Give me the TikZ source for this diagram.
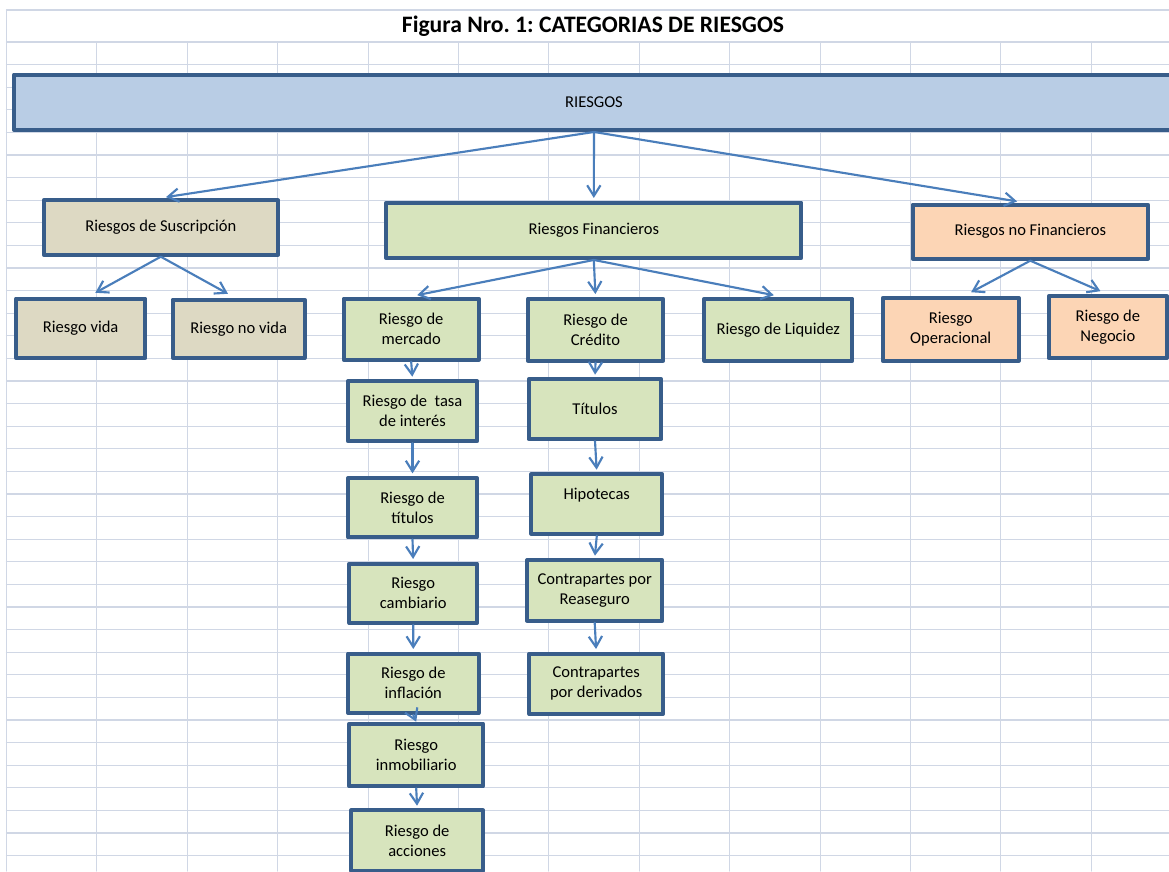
\documentclass[tikz,border=0pt]{standalone}
\usepackage{fontspec}
\setmainfont{Carlito}
\usetikzlibrary{arrows.meta}
\frenchspacing

\definecolor{sheetline}{HTML}{D0D7E5}
\definecolor{boxedge}{HTML}{385D8A}
\definecolor{arrowblue}{HTML}{4A7EBB}
\definecolor{boxblue}{HTML}{B9CDE5}
\definecolor{boxtan}{HTML}{DDD9C3}
\definecolor{boxgreen}{HTML}{D7E4BD}
\definecolor{boxpeach}{HTML}{FCD5B5}

\begin{document}
\begin{tikzpicture}[
  x=0.75pt, y=-0.75pt,
  line cap=round, line join=round,
  every node/.style={font=\fontsize{12.4}{15}\selectfont, inner sep=0pt},
  sheet/.style={draw=sheetline, line width=0.85pt},
  box/.style={draw=boxedge, line width=3pt, align=center},
  link/.style={draw=arrowblue, line width=1.6pt, -{Straight Barb[length=8pt,width=10pt]}, shorten >=6pt},
  linkdown/.style={link, shorten >=2pt},
]
\path[use as bounding box, fill=white] (0,0) rectangle (1169,871);
% spreadsheet grid
\draw[sheet] (6.5,10) -- (1169,10);
\draw[sheet] (6.5,10) -- (6.5,42);
\foreach \k in {0,...,36}
  \draw[sheet] (6.5,{42+22.6*\k}) -- (1169,{42+22.6*\k});
\foreach \k in {0,...,12}
  \draw[sheet] ({6.5+90.4*\k},42) -- ({6.5+90.4*\k},871);
\node[font=\fontsize{17.7}{20}\selectfont\bfseries] (titulo) at (593,26) {Figura Nro. 1: CATEGORIAS DE RIESGOS};

% top level
\node[box, fill=boxblue, minimum width=870pt, minimum height=41.5pt] (riesgos) at (594,102.3) {RIESGOS};
\node[box, fill=boxtan, minimum width=175.7pt, minimum height=40.8pt] (suscripcion) at (160.8,227.5) {Riesgos de Suscripción};
\node[box, fill=boxgreen, minimum width=311.3pt, minimum height=41.5pt] (financieros) at (593.8,230.3) {Riesgos Financieros};
\node[box, fill=boxpeach, minimum width=176.5pt, minimum height=40.5pt] (nofinancieros) at (1030.3,231.7) {Riesgos no Financieros};

% second level
\node[box, fill=boxtan, minimum width=97pt, minimum height=44.5pt] (vida) at (80.7,328.3) {Riesgo vida};
\node[box, fill=boxtan, minimum width=99pt, minimum height=43.7pt] (novida) at (238.7,328.8) {Riesgo no vida};
\node[box, fill=boxgreen, minimum width=101.3pt, minimum height=45.8pt] (mercado) at (411.2,329.2) {Riesgo de\\mercado};
\node[box, fill=boxgreen, minimum width=101.3pt, minimum height=46.5pt] (credito) at (595.5,329.7) {Riesgo de\\Crédito};
\node[box, fill=boxgreen, minimum width=111pt, minimum height=46.5pt] (liquidez) at (778.3,329.7) {Riesgo de Liquidez};
\node[box, fill=boxpeach, minimum width=102pt, minimum height=47pt] (operacional) at (950.7,329.3) {Riesgo\\Operacional};
\node[box, fill=boxpeach, minimum width=88.7pt, minimum height=46.3pt] (negocio) at (1107.8,327.2) {Riesgo de\\Negocio};

% mercado
\node[box, fill=boxgreen, minimum width=96.8pt, minimum height=45pt] (tasa) at (412.5,411.3) {Riesgo de~ tasa\\de interés};
\node[box, fill=boxgreen, minimum width=96.8pt, minimum height=44.5pt] (titulosm) at (412.5,507.7) {Riesgo de\\títulos};
\node[box, fill=boxgreen, minimum width=95.8pt, minimum height=44.5pt] (cambiario) at (413.2,593.3) {Riesgo\\cambiario};
\node[box, fill=boxgreen, minimum width=98pt, minimum height=44.5pt] (inflacion) at (413.3,683.3) {Riesgo de\\inflación};
\node[box, fill=boxgreen, minimum width=100.3pt, minimum height=47pt] (inmobiliario) at (416.2,755) {Riesgo\\inmobiliario};
\node[box, fill=boxgreen, minimum width=98.8pt, minimum height=45.5pt] (acciones) at (417.2,840.7) {Riesgo de\\acciones};

% credito
\node[box, fill=boxgreen, minimum width=99.5pt, minimum height=44.8pt] (tituloscr) at (595,409.2) {Títulos};
\node[box, fill=boxgreen, minimum width=98.3pt, minimum height=44.5pt, text depth=16pt] (hipotecas) at (596.8,504) {Hipotecas};
\node[box, fill=boxgreen, minimum width=101.5pt, minimum height=45.3pt] (reaseguro) at (594.7,590.5) {Contrapartes por\\Reaseguro};
\node[box, fill=boxgreen, minimum width=100.3pt, minimum height=45.2pt] (derivados) at (596.2,683.8) {Contrapartes\\por derivados};

% arrows
\draw[link] (riesgos.south) -- ([xshift=-2pt]suscripcion.north);
\draw[linkdown] (riesgos.south) -- (financieros.north);
\draw[link] (riesgos.south) -- ([xshift=-4pt]nofinancieros.north);
\draw[link] (suscripcion.south) -- ([xshift=5.7pt]vida.north);
\draw[link] (suscripcion.south) -- ([xshift=-2.8pt]novida.north);
\draw[link] (financieros.south) -- ([xshift=-1.4pt]mercado.north);
\draw[linkdown] (financieros.south) -- (credito.north);
\draw[link] (financieros.south) -- ([xshift=2.5pt]liquidez.north);
\draw[link] (nofinancieros.south) -- ([xshift=10pt]operacional.north);
\draw[link] (nofinancieros.south) -- (negocio.north);
\draw[linkdown] (mercado.south) -- (tasa.north);
\draw[linkdown] (tasa.south) -- (titulosm.north);
\draw[linkdown] (titulosm.south) -- (cambiario.north);
\draw[linkdown] (cambiario.south) -- (inflacion.north);
\draw[linkdown, shorten >=0pt] (inflacion.south) -- (inmobiliario.north);
\draw[linkdown] (inmobiliario.south) -- (acciones.north);
\draw[linkdown] (credito.south) -- (tituloscr.north);
\draw[linkdown] (tituloscr.south) -- (hipotecas.north);
\draw[linkdown] (hipotecas.south) -- (reaseguro.north);
\draw[linkdown] (reaseguro.south) -- (derivados.north);
\end{tikzpicture}
\end{document}
